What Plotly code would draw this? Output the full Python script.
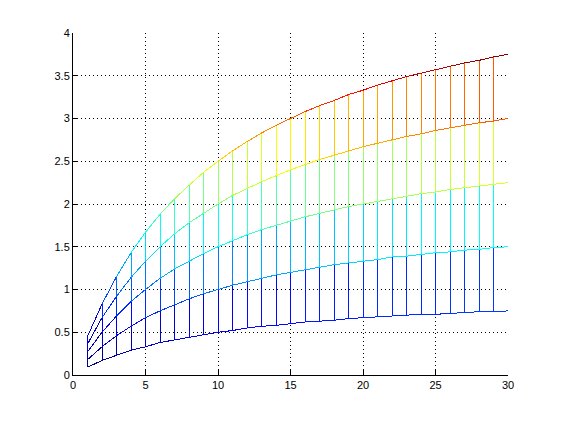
import plotly.graph_objects as go

# x positions (mesh columns)
x_vals = list(range(1, 31))

# mesh rows
row1 = [0.09, 0.17, 0.23, 0.29, 0.33, 0.38, 0.41, 0.44, 0.47, 0.50, 0.52, 0.55, 0.57, 0.58, 0.60,
        0.62, 0.63, 0.64, 0.66, 0.67, 0.68, 0.69, 0.70, 0.71, 0.71, 0.72, 0.73, 0.74, 0.74, 0.75]
row2 = [0.18, 0.33, 0.46, 0.57, 0.67, 0.75, 0.82, 0.89, 0.95, 1.00, 1.05, 1.09, 1.13, 1.17, 1.20,
        1.23, 1.26, 1.29, 1.31, 1.33, 1.35, 1.38, 1.39, 1.41, 1.43, 1.44, 1.46, 1.47, 1.49, 1.50]
row3 = [0.27, 0.50, 0.69, 0.86, 1.00, 1.13, 1.24, 1.33, 1.42, 1.50, 1.57, 1.64, 1.70, 1.75, 1.80,
        1.85, 1.89, 1.93, 1.97, 2.00, 2.03, 2.06, 2.09, 2.12, 2.14, 2.17, 2.19, 2.21, 2.23, 2.25]
row4 = [0.36, 0.67, 0.92, 1.14, 1.33, 1.50, 1.65, 1.78, 1.89, 2.00, 2.10, 2.18, 2.26, 2.33, 2.40,
        2.46, 2.52, 2.57, 2.62, 2.67, 2.71, 2.75, 2.79, 2.82, 2.86, 2.89, 2.92, 2.95, 2.97, 3.00]
row5 = [0.45, 0.83, 1.15, 1.43, 1.67, 1.88, 2.06, 2.22, 2.37, 2.50, 2.62, 2.73, 2.83, 2.92, 3.00,
        3.08, 3.15, 3.21, 3.28, 3.33, 3.39, 3.44, 3.49, 3.53, 3.57, 3.61, 3.65, 3.68, 3.72, 3.75]
rows = [row1, row2, row3, row4, row5]

x_ticks = [0, 5, 10, 15, 20, 25, 30]
y_ticks = [0, 0.5, 1, 1.5, 2, 2.5, 3, 3.5, 4]
y_ticktext = ['0', '0.5', '1', '1.5', '2', '2.5', '3', '3.5', '4']


def jet(v, vmin, vmax, n=64):
    # flat jet colormap lookup, like matlab's jet(64)
    idx = int((v - vmin) / (vmax - vmin) * n)
    idx = min(max(idx, 0), n - 1)
    t = (idx + 0.5) / n
    r = min(max(1.5 - abs(4 * t - 3), 0), 1)
    g = min(max(1.5 - abs(4 * t - 2), 0), 1)
    b = min(max(1.5 - abs(4 * t - 1), 0), 1)
    return 'rgb(%d,%d,%d)' % (round(r * 255), round(g * 255), round(b * 255))


vmin = min(min(r) for r in rows)
vmax = max(max(r) for r in rows)

# group segments by colour; each segment takes the colour of its first vertex
segs = {}
for k, row in enumerate(rows):
    for i in range(len(x_vals)):
        c = jet(row[i], vmin, vmax)
        xs, ys = segs.setdefault(c, ([], []))
        if i + 1 < len(x_vals):
            xs += [x_vals[i], x_vals[i + 1], None]
            ys += [row[i], row[i + 1], None]
        if k + 1 < len(rows):
            xs += [x_vals[i], x_vals[i], None]
            ys += [row[i], rows[k + 1][i], None]

fig = go.Figure()
for c, (xs, ys) in segs.items():
    fig.add_trace(go.Scatter(x=xs, y=ys, mode='lines', line=dict(color=c, width=1),
                             hoverinfo='skip', showlegend=False))

axis_common = dict(showgrid=True, gridcolor='black', griddash='1px,3px', gridwidth=1,
                   zeroline=False, showline=True, linecolor='black', linewidth=1,
                   ticks='inside', ticklen=5, tickcolor='black', mirror=False,
                   tickfont=dict(family='Liberation Sans, Arial', size=11, color='black'))

fig.update_xaxes(range=[0, 30], tickvals=x_ticks, **axis_common)
fig.update_yaxes(range=[0, 4], tickvals=y_ticks, ticktext=y_ticktext, **axis_common)

# page body has an 8px margin, so the plot box is shifted back by that
fig.update_layout(width=561, height=421, margin=dict(l=65, r=61, t=25, b=54),
                  paper_bgcolor='white', plot_bgcolor='white', hovermode=False)

# aliased 1px lines, like the matlab export
crisp = ("var s=document.createElement('style');"
         "s.textContent='.js-line{shape-rendering:crispEdges}';"
         "document.head.appendChild(s);")
fig.write_html("out.html", post_script=crisp)
